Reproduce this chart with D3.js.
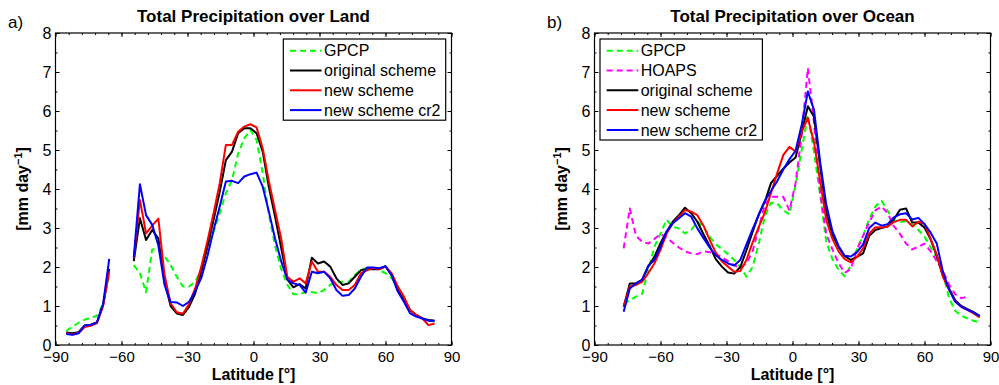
<!DOCTYPE html>
<html>
<head>
<meta charset="utf-8">
<script src="https://cdn.jsdelivr.net/npm/d3@7"></script>
<style>
    body { margin: 0; background: #fff; }
    svg text { font-family: 'Liberation Sans', Arial, sans-serif; }
</style>
</head>
<body>
<svg id="chart" width="999" height="385"></svg>
<script>
// latitudes of the model grid (land has a gap between -65 and -54)
const landLat = [-85.10, -82.31, -79.53, -76.74, -73.95, -71.16, -68.37, -65.58, -62.79, -60.00, -57.21,
    -54.42, -51.63, -48.84, -46.04, -43.25, -40.46, -37.67, -34.88, -32.09, -29.30, -26.51, -23.72,
    -20.93, -18.14, -15.35, -12.56, -9.77, -6.98, -4.19, -1.40, 1.40, 4.19, 6.98, 9.77, 12.56, 15.35,
    18.14, 20.93, 23.72, 26.51, 29.30, 32.09, 34.88, 37.67, 40.46, 43.25, 46.04, 48.84, 51.63, 54.42,
    57.21, 60.00, 62.79, 65.58, 68.37, 71.16, 73.95, 76.74, 79.53, 82.31]

const landGpcp = [0.36, 0.47, 0.57, 0.65, 0.70, 0.75, 1.05, 1.80, null, null, null,
    2.05, 1.85, 1.35, 2.45, 2.45, 2.28, 2.05, 1.75, 1.50, 1.50, 1.62, 1.95, 2.55, 2.90, 3.38, 3.89,
    4.23, 4.91, 5.30, 5.51, 5.26, 4.40, 3.35, 2.55, 1.95, 1.55, 1.30, 1.30, 1.36, 1.36, 1.33, 1.41,
    1.54, 1.62, 1.62, 1.62, 1.79, 1.94, 1.97, 1.97, 1.92, 1.84, 1.71, 1.50, 1.15, 0.90, 0.77, 0.68,
    0.64, 0.60]
const landOrig = [0.32, 0.30, 0.33, 0.50, 0.52, 0.58, 1.03, 1.95, null, null, null,
    2.15, 3.25, 2.69, 2.95, 2.73, 1.62, 1.00, 0.81, 0.77, 0.98, 1.32, 1.88, 2.52, 3.21, 3.93, 4.74,
    4.96, 5.43, 5.56, 5.56, 5.43, 4.96, 4.05, 3.30, 2.50, 1.68, 1.48, 1.56, 1.45, 2.24, 2.09, 2.14,
    2.01, 1.71, 1.54, 1.58, 1.75, 1.92, 1.94, 1.94, 1.94, 2.02, 1.79, 1.41, 1.15, 0.90, 0.77, 0.68,
    0.64, 0.62]
const landNew = [0.30, 0.27, 0.31, 0.46, 0.49, 0.56, 1.00, 1.88, null, null, null,
    2.22, 3.72, 2.86, 3.06, 3.24, 1.80, 1.07, 0.84, 0.80, 1.05, 1.45, 2.01, 2.67, 3.38, 4.15, 5.13,
    5.13, 5.47, 5.60, 5.66, 5.58, 5.04, 4.20, 3.46, 2.74, 1.75, 1.62, 1.71, 1.58, 2.14, 1.88, 1.88,
    1.75, 1.54, 1.41, 1.41, 1.54, 1.84, 1.92, 1.97, 1.95, 2.01, 1.84, 1.50, 1.24, 0.90, 0.77, 0.68,
    0.51, 0.55]
const landCr2 = [0.28, 0.26, 0.30, 0.50, 0.52, 0.58, 1.05, 2.21, null, null, null,
    2.24, 4.12, 3.33, 3.08, 2.55, 1.55, 1.10, 1.09, 1.00, 1.11, 1.38, 1.72, 2.28, 2.95, 3.55, 4.19,
    4.21, 4.15, 4.32, 4.38, 4.42, 4.06, 3.42, 2.74, 2.15, 1.68, 1.58, 1.54, 1.34, 1.88, 1.84, 1.88,
    1.71, 1.41, 1.26, 1.28, 1.45, 1.75, 1.99, 1.99, 1.97, 2.02, 1.79, 1.37, 1.11, 0.81, 0.73, 0.68,
    0.62, 0.62]

const oceanLat = [-76.74, -73.95, -71.16, -68.37, -65.58, -62.79, -60.00, -57.21, -54.42, -51.63,
    -48.84, -46.04, -43.25, -40.46, -37.67, -34.88, -32.09, -29.30, -26.51, -23.72, -20.93, -18.14,
    -15.35, -12.56, -9.77, -6.98, -4.19, -1.40, 1.40, 4.19, 6.98, 9.77, 12.56, 15.35, 18.14, 20.93,
    23.72, 26.51, 29.30, 32.09, 34.88, 37.67, 40.46, 43.25, 46.04, 48.84, 51.63, 54.42, 57.21, 60.00,
    62.79, 65.58, 68.37, 71.16, 73.95, 76.74, 79.53, 82.31, 85.10]

const oceanGpcp = [1.05, 1.15, 1.24, 1.31, 1.92, 2.52, 2.86, 3.21, 3.03, 2.99, 2.86, 2.95, 3.16, 3.03,
    2.78, 2.58, 2.46, 2.33, 2.18, 2.00, 1.75, 2.00, 2.60, 3.30, 3.65, 3.63, 3.45, 3.35, 4.10, 5.00,
    5.90, 4.95, 3.85, 2.65, 2.20, 1.93, 1.76, 2.03, 2.46, 2.80, 3.23, 3.55, 3.70, 3.44, 3.20, 3.15,
    3.18, 3.08, 2.95, 2.78, 2.50, 2.25, 1.85, 1.20, 0.88, 0.75, 0.68, 0.62, 0.58]
const oceanHoaps = [2.48, 3.50, 2.80, 2.65, 2.60, 2.72, 2.85, 2.75, 2.62, 2.50, 2.40, 2.35, 2.33, 2.40,
    2.38, 2.33, 2.25, 2.15, 2.05, 1.97, 2.10, 2.40, 3.00, 3.60, 3.80, 3.80, 3.80, 3.45, 4.15, 5.40,
    7.10, 5.70, 3.90, 2.85, 2.45, 2.10, 1.85, 1.95, 2.45, 2.80, 3.15, 3.45, 3.55, 3.38, 3.05, 2.85,
    2.60, 2.45, 2.52, 2.60, 2.40, 2.15, 1.90, 1.55, 1.30, 1.20, 1.24, null, null]
const oceanOrig = [0.98, 1.58, 1.58, 1.67, 2.01, 2.26, 2.61, 2.91, 3.16, 3.33, 3.52, 3.38, 3.16, 2.84,
    2.54, 2.20, 2.01, 1.86, 1.83, 2.00, 2.43, 2.90, 3.35, 3.68, 4.15, 4.34, 4.52, 4.68, 4.81, 5.45,
    6.12, 5.85, 4.60, 3.40, 2.83, 2.51, 2.28, 2.18, 2.26, 2.35, 2.80, 2.95, 3.00, 3.04, 3.22, 3.47,
    3.50, 3.14, 3.14, 3.01, 2.71, 2.28, 1.77, 1.45, 1.15, 1.00, 0.92, 0.84, 0.75]
const oceanNew = [0.98, 1.50, 1.54, 1.62, 1.84, 2.09, 2.44, 2.86, 3.12, 3.29, 3.46, 3.42, 3.33, 3.06,
    2.70, 2.37, 2.14, 2.01, 1.88, 1.90, 2.18, 2.63, 3.02, 3.40, 3.90, 4.40, 4.87, 5.08, 4.96, 5.47,
    5.82, 5.20, 4.20, 3.20, 2.72, 2.40, 2.20, 2.12, 2.26, 2.48, 2.86, 3.02, 3.01, 3.04, 3.15, 3.21,
    3.21, 3.04, 3.16, 3.11, 2.72, 2.32, 1.75, 1.43, 1.13, 0.98, 0.90, 0.81, 0.71]
const oceanCr2 = [0.85, 1.45, 1.58, 1.67, 2.03, 2.18, 2.52, 2.91, 3.12, 3.25, 3.38, 3.29, 2.99, 2.74,
    2.50, 2.30, 2.18, 2.09, 2.04, 2.18, 2.58, 2.97, 3.33, 3.70, 3.95, 4.20, 4.50, 4.76, 4.98, 5.65,
    6.50, 6.03, 4.70, 3.60, 2.92, 2.54, 2.29, 2.27, 2.38, 2.58, 3.00, 3.14, 3.06, 3.10, 3.27, 3.35,
    3.38, 3.22, 3.26, 3.10, 2.88, 2.60, 1.88, 1.42, 1.11, 0.98, 0.90, 0.83, 0.74]

const xTicks = [-90, -60, -30, 0, 30, 60, 90]
const yTicks = [0, 1, 2, 3, 4, 5, 6, 7, 8]

const svg = d3.select('#chart')

function drawPanel(left, tag, title, lat, series, legendRight) {
    const top = 33
    const bottom = 345
    const right = left + 396

    const x = d3.scaleLinear().domain([-90, 90]).range([left, right])
    const y = d3.scaleLinear().domain([0, 8]).range([bottom, top])

    const g = svg.append('g')

    const minorX = d3.range(-90, 91, 6)
    const minorY = d3.range(0, 8.01, 0.5)

    // ticks on all four sides, pointing inward
    g.append('g')
        .attr('transform', 'translate(0,' + bottom + ')')
        .style('font-size', '15px')
        .call(d3.axisBottom(x).tickValues(xTicks).tickSizeInner(-4).tickSizeOuter(0).tickPadding(6))
        .call((s) => s.select('.domain').remove())
    g.append('g')
        .attr('transform', 'translate(0,' + bottom + ')')
        .call(d3.axisBottom(x).tickValues(minorX).tickSizeInner(-2).tickSizeOuter(0).tickFormat(''))
        .call((s) => s.select('.domain').remove())
    g.append('g')
        .attr('transform', 'translate(0,' + top + ')')
        .call(d3.axisTop(x).tickValues(xTicks).tickSizeInner(-4).tickSizeOuter(0).tickFormat(''))
        .call((s) => s.select('.domain').remove())
    g.append('g')
        .attr('transform', 'translate(0,' + top + ')')
        .call(d3.axisTop(x).tickValues(minorX).tickSizeInner(-2).tickSizeOuter(0).tickFormat(''))
        .call((s) => s.select('.domain').remove())

    g.append('g')
        .attr('transform', 'translate(' + left + ',0)')
        .style('font-size', '16px')
        .call(d3.axisLeft(y).tickValues(yTicks).tickSizeInner(-4).tickSizeOuter(0).tickPadding(4).tickFormat(d3.format('d')))
        .call((s) => s.select('.domain').remove())
    g.append('g')
        .attr('transform', 'translate(' + left + ',0)')
        .call(d3.axisLeft(y).tickValues(minorY).tickSizeInner(-2).tickSizeOuter(0).tickFormat(''))
        .call((s) => s.select('.domain').remove())
    g.append('g')
        .attr('transform', 'translate(' + right + ',0)')
        .call(d3.axisRight(y).tickValues(yTicks).tickSizeInner(-4).tickSizeOuter(0).tickFormat(''))
        .call((s) => s.select('.domain').remove())
    g.append('g')
        .attr('transform', 'translate(' + right + ',0)')
        .call(d3.axisRight(y).tickValues(minorY).tickSizeInner(-2).tickSizeOuter(0).tickFormat(''))
        .call((s) => s.select('.domain').remove())

    g.selectAll('.tick text').attr('fill', '#000')
    g.selectAll('.tick line').attr('stroke', '#000')

    const line = d3
        .line()
        .defined((d) => d[1] !== null)
        .x((d) => x(d[0]))
        .y((d) => y(d[1]))

    series.forEach((s) => {
        g.append('path')
            .datum(lat.map((l, i) => [l, s.values[i]]))
            .attr('d', line)
            .attr('fill', 'none')
            .attr('stroke', s.color)
            .attr('stroke-width', 2)
            .attr('stroke-dasharray', s.dash ? '6,4' : null)
            .attr('stroke-linejoin', 'round')
    })

    g.append('rect')
        .attr('x', left)
        .attr('y', top)
        .attr('width', right - left)
        .attr('height', bottom - top)
        .attr('fill', 'none')
        .attr('stroke', '#000')
        .attr('stroke-width', 1.2)

    // legend
    const rowH = 19.8
    const boxW = 162.4
    const boxX = legendRight ? right - 5.8 - boxW : left + 5.5
    const boxY = 39
    const legend = g.append('g')
    legend.append('rect')
        .attr('x', boxX)
        .attr('y', boxY)
        .attr('width', boxW)
        .attr('height', series.length * rowH + 2)
        .attr('fill', '#fff')
        .attr('stroke', '#000')
        .attr('stroke-width', 1.2)
    series.forEach((s, i) => {
        const cy = boxY + 11.7 + i * rowH
        legend.append('line')
            .attr('x1', boxX + 6.7)
            .attr('x2', boxX + 38.3)
            .attr('y1', cy)
            .attr('y2', cy)
            .attr('stroke', s.color)
            .attr('stroke-width', 2)
            .attr('stroke-dasharray', s.dash ? '6,4' : null)
        legend.append('text')
            .attr('x', boxX + 40.7)
            .attr('y', cy + 5.7)
            .style('font-size', '16px')
            .text(s.name)
    })

    // title, panel tag and axis labels
    svg.append('text')
        .attr('x', (left + right) / 2)
        .attr('y', 21.5)
        .attr('text-anchor', 'middle')
        .style('font-size', '17px')
        .style('font-weight', 'bold')
        .text(title)

    svg.append('text')
        .attr('x', left - 47.5)
        .attr('y', 28)
        .style('font-size', '17px')
        .text(tag)

    svg.append('text')
        .attr('x', (left + right) / 2)
        .attr('y', 380)
        .attr('text-anchor', 'middle')
        .style('font-size', '16px')
        .style('font-weight', 'bold')
        .text('Latitude [°]')

    const yl = svg.append('text')
        .attr('transform', 'translate(' + (left - 28) + ',' + (top + bottom) / 2 + ') rotate(-90)')
        .attr('text-anchor', 'middle')
        .style('font-size', '16px')
        .style('font-weight', 'bold')
    yl.append('tspan').text('[mm day')
    yl.append('tspan').attr('dy', -6).style('font-size', '11px').text('−1')
    yl.append('tspan').attr('dy', 6).text(']')
}

drawPanel(55.5, 'a)', 'Total Precipitation over Land', landLat, [
    { name: 'GPCP', values: landGpcp, color: '#00ff00', dash: true },
    { name: 'original scheme', values: landOrig, color: '#000000' },
    { name: 'new scheme', values: landNew, color: '#ff0000' },
    { name: 'new scheme cr2', values: landCr2, color: '#0000ff' },
], true)

drawPanel(594.5, 'b)', 'Total Precipitation over Ocean', oceanLat, [
    { name: 'GPCP', values: oceanGpcp, color: '#00ff00', dash: true },
    { name: 'HOAPS', values: oceanHoaps, color: '#ff00ff', dash: true },
    { name: 'original scheme', values: oceanOrig, color: '#000000' },
    { name: 'new scheme', values: oceanNew, color: '#ff0000' },
    { name: 'new scheme cr2', values: oceanCr2, color: '#0000ff' },
], false)
</script>
</body>
</html>
